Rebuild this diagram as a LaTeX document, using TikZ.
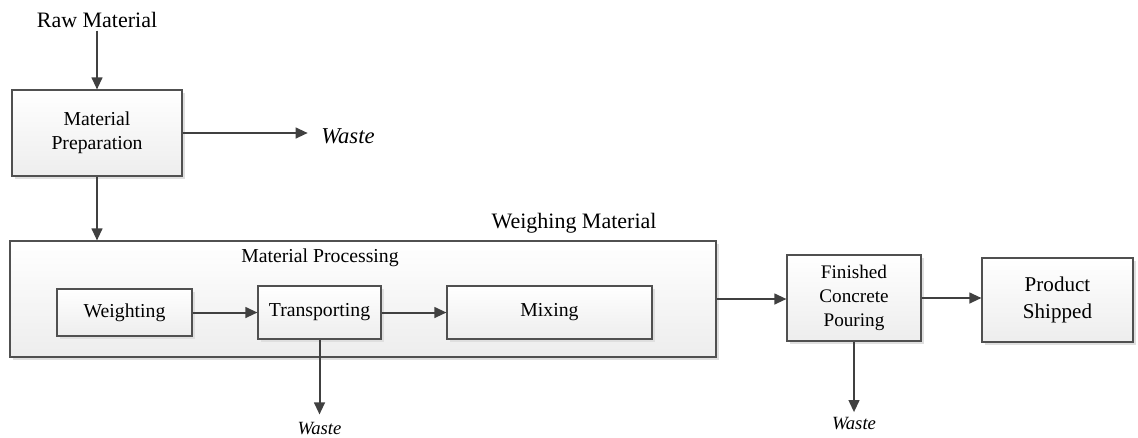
\documentclass[tikz,border=0pt]{standalone}
\usepackage{fontspec}
\setmainfont{Liberation Serif}
\usepackage{tikz}
\usetikzlibrary{positioning, arrows.meta, shadows}

\definecolor{edgegray}{HTML}{505050}
\definecolor{arrowgray}{HTML}{404040}

\begin{document}
\begin{tikzpicture}[
  x=0.75pt, y=-0.75pt,
  box/.style={draw=edgegray, rectangle, line width=0.8pt, top color=white, bottom color=gray!14,
    drop shadow={shadow xshift=2pt, shadow yshift=-2pt, fill=gray!25, opacity=1},
    align=center, font=\fontsize{14.8}{18}\selectfont, inner sep=2pt},
  lbl/.style={align=center, inner sep=2pt, font=\fontsize{16.5}{19}\selectfont},
  waste/.style={inner sep=2pt, font=\fontsize{14}{16}\selectfont\itshape},
  arrow/.style={-{Triangle[length=9pt, width=8pt]}, line width=1.5pt, color=arrowgray}
]
  \useasboundingbox (0,0) rectangle (1138,437);

  \node[box, minimum width=529.5pt, minimum height=87pt] (proc) at (363, 299) {};
  \node[lbl, font=\fontsize{14.8}{17}\selectfont] (proclbl) at (320, 258) {Material Processing};
  \node[lbl]  (weighlbl) at (574, 223) {Weighing Material};

  \node[lbl]  (raw)   at (97,  20)  {Raw Material};
  \node[box, minimum width=127.5pt, minimum height=64.5pt] (prep)  at (97, 133)  {Material\\Preparation};
  \node[waste, font=\fontsize{17}{19}\selectfont\itshape] (wasteA) at (348, 136) {Waste};

  \node[box, minimum width=101.25pt, minimum height=35.25pt] (weigh) at (124.5, 312.5) {Weighting};
  \node[box, minimum width=92.25pt,  minimum height=39.75pt] (trans) at (319.5, 312.5) {Transporting};
  \node[box, minimum width=153.75pt, minimum height=39.75pt] (mix)   at (549.5, 312.5) {Mixing};
  \node[waste] (wasteB) at (319.5, 429) {Waste};

  \node[box, minimum width=100.5pt, minimum height=64.5pt, font=\fontsize{14.4}{18}\selectfont] (pour) at (854, 298) {Finished\\Concrete\\Pouring};
  \node[waste] (wasteC) at (854, 424) {Waste};
  \node[box, minimum width=113.25pt, minimum height=63pt, font=\fontsize{15.8}{20}\selectfont] (ship) at (1057.5, 300) {Product\\Shipped};

  \draw[arrow] (raw.south)   -- (prep.north);
  \draw[arrow] (prep.east)   -- ([xshift=-8pt]prep.east -| wasteA.west);
  \draw[arrow] (prep.south)  -- (prep.south |- proc.north);
  \draw[arrow] (weigh.east)  -- (trans.west);
  \draw[arrow] (trans.east)  -- (mix.west);
  \draw[arrow] (trans.south) -- ([yshift=4pt]wasteB.north);
  \draw[arrow] (proc.east)   -- (proc.east -| pour.west);
  \draw[arrow] (pour.east)   -- (ship.west |- pour.east);
  \draw[arrow] (pour.south)  -- ([yshift=2pt]wasteC.north);
\end{tikzpicture}
\end{document}
